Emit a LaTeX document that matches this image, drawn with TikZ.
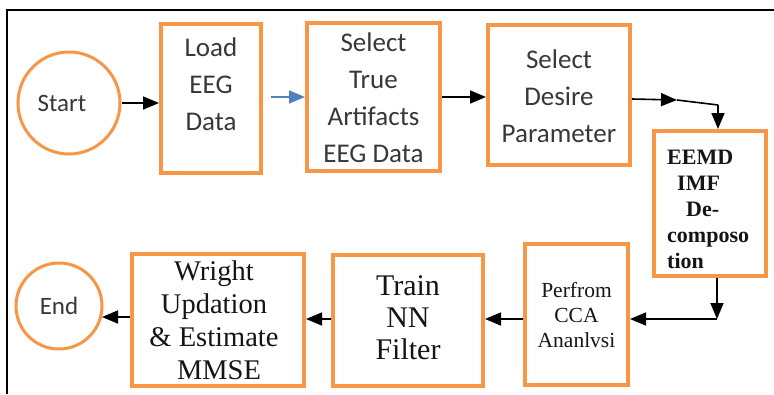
\documentclass[tikz,border=0pt]{standalone}
\usepackage{fontspec}
\setmainfont{Liberation Serif}
\newfontfamily\calfont{Carlito}
\usetikzlibrary{arrows.meta}
\definecolor{orng}{HTML}{F79646}
\definecolor{blu}{HTML}{4F81BD}
\definecolor{txtgray}{HTML}{383838}
\definecolor{txtdark}{HTML}{151515}
\begin{document}
\begin{tikzpicture}[x=1pt,y=-1pt,
  box/.style={draw=orng, line width=4pt, inner sep=0pt, rectangle},
  circ/.style={draw=orng, line width=3pt, circle, inner sep=0pt},
  arr/.style={line width=1.6pt, -{Triangle[length=16pt,width=13pt]}},
  plain/.style={line width=1.6pt},
  sanslbl/.style={font=\calfont\fontsize{27}{37}\selectfont, align=center, text=txtgray, inner sep=0pt},
  seriflbl/.style={font=\fontsize{28.5}{33}\selectfont, align=center, text=txtdark, inner sep=0pt},
]
\useasboundingbox (0,0) rectangle (774,394);
\fill[white] (0,0) rectangle (774,394);
% frame
\draw[line width=1.8pt] (7,394) -- (7,10) -- (774,10);

% top row
\node[circ, minimum size=102pt] (start) at (69,103) {};
\node[sanslbl, font=\calfont\fontsize{25}{30}\selectfont] (startT) at (62,103) {Start};
\node[box, minimum width=100pt, minimum height=149pt] (load) at (211,98.5) {};
\node[sanslbl] (loadT) at (211,84) {Load\\EEG\\Data};
\node[box, minimum width=133pt, minimum height=148pt] (selT) at (373.5,97) {};
\node[sanslbl] (selTT) at (373.5,98) {Select\\True\\Artifacts\\EEG Data};
\node[box, minimum width=142pt, minimum height=140pt] (selD) at (559,95) {};
\node[sanslbl] (selDT) at (559,96) {Select\\Desire\\Parameter};
\node[box, minimum width=112pt, minimum height=145pt] (eemd) at (710,203.5) {};
\node[font=\bfseries\fontsize{22}{26}\selectfont, align=left, text=txtdark, inner sep=0pt, anchor=west] (eemdT) at (667,209.5)
  {EEMD\\\hspace*{10pt}IMF\\\hspace*{19pt}De-\\composo\\tion};

% bottom row
\node[box, minimum width=103pt, minimum height=141pt] (perf) at (576.5,314.5) {};
\node[seriflbl, font=\fontsize{21.5}{25}\selectfont] (perfT) at (576.5,315) {Perfrom\\CCA\\Ananlvsi};
\node[box, minimum width=150pt, minimum height=131pt] (train) at (408,320.5) {};
\node[seriflbl, font=\fontsize{30}{32}\selectfont] (trainT) at (408,318) {Train\\NN\\Filter};
\node[box, minimum width=172pt, minimum height=132pt] (wright) at (218,320) {};
\node[seriflbl] (wrightT) at (214,320) {Wright\\Updation\\\& Estimate\\\hspace*{10pt}MMSE};
\node[circ, minimum size=86pt, font=\calfont\fontsize{25}{30}\selectfont, text=txtgray] (end) at (59,306) {End};

% connectors
\coordinate (dA) at (677,100);
\coordinate (dB) at (718,105);
\coordinate (eB) at (717,319);
\coordinate (eW) at (102,317);
\draw[arr] (start.east) -- (start.east -| load.west);
\draw[arr, blu, shorten <=8pt] (load.east |- 0,97) -- (selT.west |- 0,97);
\draw[arr] (selT.east |- 0,97) -- (selD.west |- 0,97);
\draw[arr] (selD.east |- 0,99) -- (dA);
\draw[plain] (dA) -- (dB);
\draw[arr] (dB) -- (dB |- eemd.north);
\draw[arr] (eemd.south -| eB) -- (eB);
\draw[arr] (eB) -- (eB -| perf.east);
\draw[arr] (perf.west |- eB) -- (train.east |- eB);
\draw[arr] (train.west |- eB) -- (wright.east |- eB);
\draw[arr] (wright.west |- eW) -- (eW);
\end{tikzpicture}
\end{document}
